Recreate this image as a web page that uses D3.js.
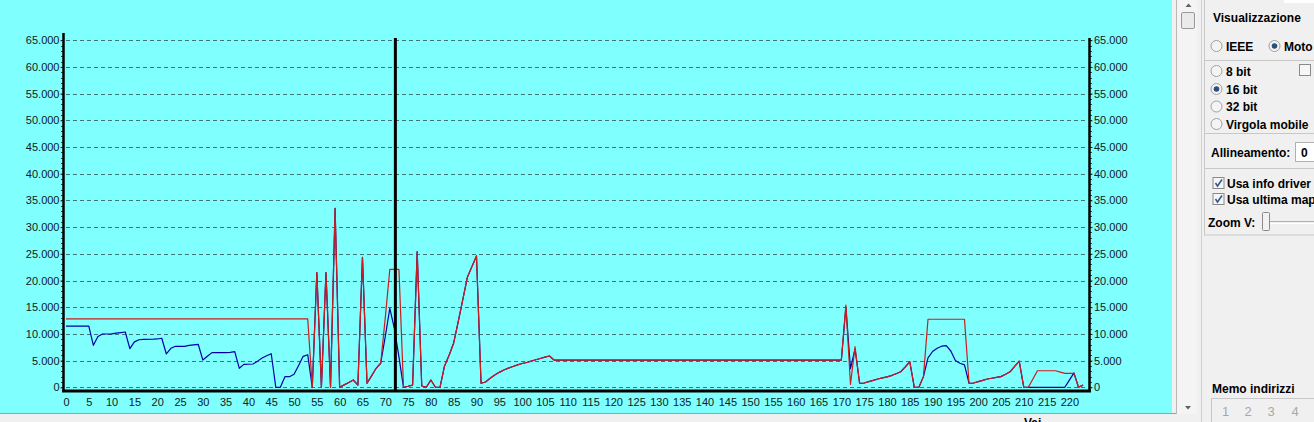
<!DOCTYPE html>
<html><head><meta charset="utf-8">
<script src="https://cdn.jsdelivr.net/npm/d3@7/dist/d3.min.js"></script>
<style>
html,body{margin:0;padding:0;background:#f0f0f0;overflow:hidden}
svg{display:block}
text{font-family:"Liberation Sans",Arial,sans-serif}
</style></head><body>
<svg id="c" width="1314" height="422"></svg>
<script>
// ---- data ----
const xTicks = d3.range(0, 221, 5);
const yTicks = d3.range(0, 65001, 5000);
const cursorIndex = 72;

const redX = [0,53,54,55,56,57,58,59,60,61,62,63,64,65,66,67,68,69,70,71,72,73,74,75,76,77,78,79,80,81,82,83,84,85,86,87,88,89,90,91,92,93,94,95,96,97,98,99,100,101,102,103,104,105,106,107,170,171,172,173,174,175,176,177,178,179,180,181,182,183,184,185,186,187,188,189,197,198,199,200,201,202,203,204,205,206,207,208,209,210,211,212,213,217,218,219,221,222,223];
const redY = [12800,12800,0,21500,0,21500,0,33500,0,450,900,1370,420,24350,750,2150,3560,4500,13000,22100,22100,22100,0,200,420,25400,240,0,1370,0,0,4000,6000,8300,12300,16400,20600,22600,24600,750,1000,1700,2300,2800,3250,3600,3900,4200,4450,4650,4900,5150,5400,5650,5860,5100,5100,15400,560,7600,750,800,1050,1300,1550,1750,1950,2200,2550,2900,3800,4800,0,0,2000,12740,12740,750,800,1050,1300,1550,1700,1850,2000,2450,2900,3900,4900,0,0,1550,3100,3100,2850,2600,2600,0,400];

const blueX = [0,5,6,7,8,10,11,12,13,14,15,16,17,19,20,21,22,23,24,26,27,28,29,30,31,32,35,36,37,38,39,41,42,43,44,45,46,47,48,49,50,51,52,53,54,55,56,57,58,59,60,61,62,63,64,65,66,67,68,69,70,71,72,73,74,75,76,77,78,79,80,81,82,83,84,85,86,87,88,89,90,91,92,93,94,95,96,97,98,99,100,101,102,103,104,105,106,107,170,171,172,173,174,175,176,177,178,179,180,181,182,183,184,185,186,187,188,189,190,191,192,193,194,195,196,197,198,199,200,201,202,203,204,205,206,207,208,209,210,211,219,220,221,222,223];
const blueY = [11450,11450,7860,9500,9980,10000,10150,10250,10360,7230,8500,8900,8990,9000,9050,9180,6240,7300,7680,7680,7860,7950,8050,5110,5800,6490,6490,6550,6670,3560,4300,4360,4900,5500,5900,6290,0,0,1990,1990,2430,4100,5800,6100,0,21500,0,21500,0,33500,0,450,900,1370,420,24350,750,2150,3560,4500,9500,14800,11000,5700,0,200,420,25400,240,0,1370,0,0,4000,6000,8300,12300,16400,20600,22600,24600,750,1000,1700,2300,2800,3250,3600,3900,4200,4450,4650,4900,5150,5400,5650,5860,5100,5100,15000,3500,7200,750,800,1050,1300,1550,1750,1950,2200,2550,2900,3800,4800,0,0,2000,5500,6700,7300,7700,7800,6800,5000,4500,4200,750,800,1050,1300,1550,1700,1850,2000,2450,2900,3900,4900,0,0,0,1350,2700,0,400];

// ---- drawing ----
const svg = d3.select("#c");
const W = 1314, H = 422;
const x = d3.scaleLinear().domain([0, 224.3]).range([66, 1089]);
const y = d3.scaleLinear().domain([0, 65000]).range([387.3, 40.2]);
const loc = d3.formatLocale({decimal: ",", thousands: ".", grouping: [3], currency: ["", ""]});
const fmt = loc.format(",d");

// background
svg.append("rect").attr("x",0).attr("y",0).attr("width",W).attr("height",H).attr("fill","#f0f0f0");
svg.append("rect").attr("x",0).attr("y",0).attr("width",1172).attr("height",413).attr("fill","#80ffff");
svg.append("line").attr("x1",0).attr("x2",1177).attr("y1",413.5).attr("y2",413.5).attr("stroke","#a0a0a0");

// grid
svg.append("g").selectAll("line").data(yTicks).join("line")
  .attr("x1", x(0)).attr("x2", x(224.3)-1)
  .attr("y1", d => Math.round(y(d))+0.5).attr("y2", d => Math.round(y(d))+0.5)
  .attr("stroke", "#3f7575").attr("stroke-dasharray", "4,3").attr("stroke-width", 1);

// minor ticks
const minor = d3.range(0, 65001, 1000);
svg.append("g").selectAll("line").data(minor).join("line")
  .attr("x1", 61).attr("x2", 63).attr("y1", d => Math.round(y(d))+0.5).attr("y2", d => Math.round(y(d))+0.5)
  .attr("stroke", "#305050");
svg.append("g").selectAll("line").data(minor).join("line")
  .attr("x1", 1090).attr("x2", 1092).attr("y1", d => Math.round(y(d))+0.5).attr("y2", d => Math.round(y(d))+0.5)
  .attr("stroke", "#305050");

// y axes labels
const gl = svg.append("g").attr("transform", "translate(63.5,0)")
  .call(d3.axisLeft(y).tickValues(yTicks).tickFormat(fmt).tickSize(3).tickPadding(1));
const gr = svg.append("g").attr("transform", "translate(1089.5,0)")
  .call(d3.axisRight(y).tickValues(yTicks).tickFormat(fmt).tickSize(3).tickPadding(1.5));
[gl, gr].forEach(g => {
  g.select(".domain").remove();
  g.selectAll(".tick line").attr("stroke", "#203030");
  g.selectAll("text").attr("font-size", 11).attr("fill", "#102020").attr("font-family", "Liberation Sans, Arial, sans-serif");
});

// x axis labels
const gx = svg.append("g").attr("transform", "translate(0,391)")
  .call(d3.axisBottom(x).tickValues(xTicks).tickSize(0).tickPadding(7));
gx.select(".domain").remove();
gx.selectAll("text").attr("font-size", 11).attr("fill", "#102020").attr("font-family", "Liberation Sans, Arial, sans-serif");

// series
const line = d3.line().x(d => x(d[0])).y(d => y(d[1]));
svg.append("path").datum(d3.zip(blueX, blueY)).attr("d", line)
  .attr("fill", "none").attr("stroke", "#0000a8").attr("stroke-width", 1.2).attr("stroke-linejoin","round");
svg.append("path").datum(d3.zip(redX, redY)).attr("d", line)
  .attr("fill", "none").attr("stroke", "#cc1c1c").attr("stroke-width", 1.2).attr("stroke-linejoin","round");

// axis lines
svg.append("line").attr("x1",63.5).attr("x2",63.5).attr("y1",33).attr("y2",392).attr("stroke","#000").attr("stroke-width",2.5);
svg.append("line").attr("x1",1089.5).attr("x2",1089.5).attr("y1",38).attr("y2",392).attr("stroke","#000").attr("stroke-width",2.5);
svg.append("line").attr("x1",62).attr("x2",1091).attr("y1",391).attr("y2",391).attr("stroke","#000").attr("stroke-width",3);

// cursor
svg.append("line").attr("x1", x(cursorIndex)+1).attr("x2", x(cursorIndex)+1).attr("y1", 38).attr("y2", 390)
  .attr("stroke", "#000").attr("stroke-width", 3);

// bottom strip text (partly hidden below the window edge, as in the reference)
svg.append("text").attr("x",1024).attr("y",427).attr("font-size",12).attr("font-weight","bold").attr("fill","#000").text("Vai");

// ---- right panel ----
const P = svg.append("g");
P.append("line").attr("x1",1176.5).attr("x2",1176.5).attr("y1",0).attr("y2",414).attr("stroke","#b8b8b8");
P.append("rect").attr("x",1177).attr("y",0).attr("width",20).attr("height",414).attr("fill","#f4f4f4");
P.append("rect").attr("x",1181.5).attr("y",12.5).attr("width",13).attr("height",16).attr("fill","#eaeaea").attr("stroke","#9a9a9a").attr("rx",1.5);
P.append("path").attr("d","M1185.5,7 L1188.5,3.5 L1191.5,7 Z").attr("fill","#606060");
P.append("path").attr("d","M1185,406 L1188,409.5 L1191,406 Z").attr("fill","#606060");
P.append("line").attr("x1",1201.5).attr("x2",1201.5).attr("y1",0).attr("y2",422).attr("stroke","#d0d0d0");
// group box
P.append("rect").attr("x",1204.5).attr("y",-1).attr("width",120).attr("height",236).attr("fill","none").attr("stroke","#c8c8c8");
P.append("rect").attr("x",1284).attr("y",-1).attr("width",31).attr("height",4).attr("fill","#fff");
[60.5,133.5,168.5].forEach(v => P.append("line").attr("x1",1205).attr("x2",1314).attr("y1",v).attr("y2",v).attr("stroke","#c8c8c8"));
const bt = (tx, ty, s, col) => P.append("text").attr("x",tx).attr("y",ty).attr("font-size",12).attr("font-weight","bold").attr("fill",col||"#000").text(s);
bt(1213, 21.5, "Visualizzazione");
function radio(cx, cy, sel){
  P.append("circle").attr("cx",cx).attr("cy",cy).attr("r",5.5).attr("fill","#f4f4f4").attr("stroke","#a0a0a0");
  if(sel) P.append("circle").attr("cx",cx).attr("cy",cy).attr("r",2.8).attr("fill","#2a4f7a");
}
function check(cx, cy, on){
  P.append("rect").attr("x",cx-5.5).attr("y",cy-5.5).attr("width",11).attr("height",11).attr("fill","#f6f6f6").attr("stroke","#8a8a8a");
  if(on) P.append("path").attr("d",`M${cx-3},${cy} L${cx-1},${cy+3} L${cx+3.5},${cy-3.5}`).attr("fill","none").attr("stroke","#3a5a90").attr("stroke-width",1.6);
}
radio(1216.5, 46, false); bt(1226, 50.5, "IEEE");
radio(1274.5, 46, true); bt(1284, 50.5, "Moto");
radio(1216.5, 71, false); bt(1226, 75.5, "8 bit");
check(1305, 70, false);
radio(1216.5, 89, true); bt(1226, 93.5, "16 bit");
radio(1216.5, 106.5, false); bt(1226, 111, "32 bit");
radio(1216.5, 124, false); bt(1226, 128.5, "Virgola mobile");
bt(1211, 156.5, "Allineamento:");
P.append("rect").attr("x",1295.5).attr("y",142.5).attr("width",25).attr("height",19).attr("fill","#fff").attr("stroke","#b0b0b0");
bt(1301, 156.5, "0");
check(1218.5, 183, true); bt(1227, 187.5, "Usa info driver");
check(1218.5, 199, true); bt(1227, 203.5, "Usa ultima map");
bt(1208, 227, "Zoom V:");
P.append("line").attr("x1",1262).attr("x2",1314).attr("y1",221.5).attr("y2",221.5).attr("stroke","#b0b0b0");
P.append("line").attr("x1",1262).attr("x2",1314).attr("y1",223.5).attr("y2",223.5).attr("stroke","#ffffff");
P.append("rect").attr("x",1262.5).attr("y",212.5).attr("width",7).attr("height",18).attr("fill","#f2f2f2").attr("stroke","#8a8a8a").attr("rx",1);
// memo
bt(1212, 393, "Memo indirizzi");
P.append("rect").attr("x",1211.5).attr("y",398.5).attr("width",110).attr("height",30).attr("fill","none").attr("stroke","#c8c8c8");
[["1",1225.5],["2",1248],["3",1271],["4",1295]].forEach(([t,xx]) =>
  P.append("text").attr("x",xx).attr("y",416).attr("text-anchor","middle").attr("font-size",13).attr("fill","#a8a8a8").text(t));
</script>
</body></html>
